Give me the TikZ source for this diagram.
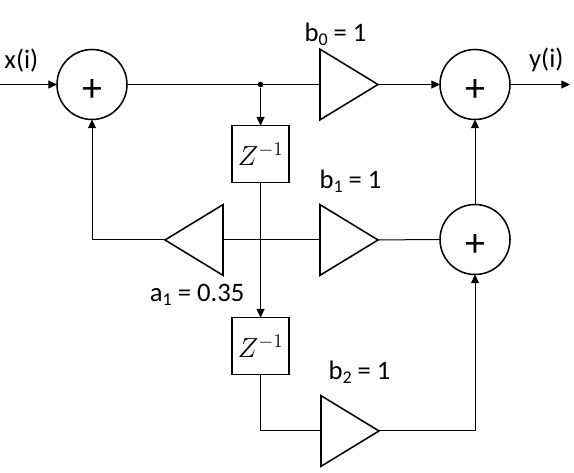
\documentclass[tikz,border=0pt]{standalone}
\usepackage{fontspec}
\setmainfont{Carlito}
\usetikzlibrary{arrows.meta,positioning,shapes.geometric}
\newcommand{\idx}[1]{\raisebox{-3.6pt}{\fontsize{13.5}{16}\selectfont #1}}

\begin{document}
\begin{tikzpicture}[
  x=0.75pt, y=-0.75pt, >={Triangle[length=6.5pt,width=6pt]},
  line width=0.75pt, font=\fontsize{20}{24}\selectfont,
  block/.style={draw, line width=1.15pt, inner sep=0pt, outer sep=0pt},
  adder/.style={block, circle, minimum size=52.5pt, text height=25pt, text depth=0pt, font=\fontsize{30}{30}\selectfont},
  delay/.style={block, rectangle, minimum size=42.75pt, font=\fontsize{20}{24}\selectfont},
  gain/.style={block, isosceles triangle, isosceles triangle stretches, minimum height=43.5pt, minimum width=53pt},
  tap/.style={circle, fill=black, inner sep=0pt, minimum size=4.2pt},
  lbl/.style={inner sep=0pt},
]
\useasboundingbox (0,0) rectangle (574,472);
\coordinate (in) at (0,84.5);
\coordinate (out) at (570,84.5);
\node[adder] (add1) at (92,84.5) {+};
\node[tap, right=97.7pt of add1] (split) {};
\node[gain, right=144.75pt of add1] (gain0) {};
\node[delay, below=28.3pt of split] (delay1) {$Z^{-1}$};
\node[delay, below=101.25pt of delay1] (delay2) {$Z^{-1}$};
\node[adder, right=46.5pt of gain0] (add2) {+};
\node[adder, below=63.75pt of add2] (add3) {+};
\node[gain, below=116.6pt of gain0.center, anchor=center] (gain1) {};
\node[gain, below=143.25pt of gain1.center, anchor=center, xshift=0.75pt] (gain2) {};
\node[gain, shape border rotate=180, left=72.75pt of gain1] (gaina) {};
\node[lbl, above right=9pt and 3pt of in] (xlbl) {x(i)};
\node[lbl, above left=9pt and 4.5pt of out] (ylbl) {y(i)};
\node[lbl, above=11pt of gain0, xshift=-3.25pt] (b0lbl) {b\idx{0} = 1};
\node[lbl, above=17.5pt of gain1, xshift=8pt] (b1lbl) {b\idx{1} = 1};
\node[lbl, above=17.5pt of gain2, xshift=14pt] (b2lbl) {b\idx{2} = 1};
\node[lbl, below=15pt of gaina, xshift=-4.5pt] (a1lbl) {a\idx{1} = 0.35};
\draw[->] (in) -- (add1);
\draw (add1) -- (gain0);
\draw[->] (split) -- (delay1);
\draw[->] (gain0) -- (add2);
\draw[->] (add2) -- (out);
\draw[->] (add3) -- (add2);
\draw (gain1) -- (add3);
\draw[->] (delay1) -- (delay2);
\draw (gain1) -- (gaina);
\draw[->] (gaina) -| (add1);
\draw (delay2) |- (gain2);
\draw[->] (gain2) -| (add3);
\end{tikzpicture}
\end{document}
